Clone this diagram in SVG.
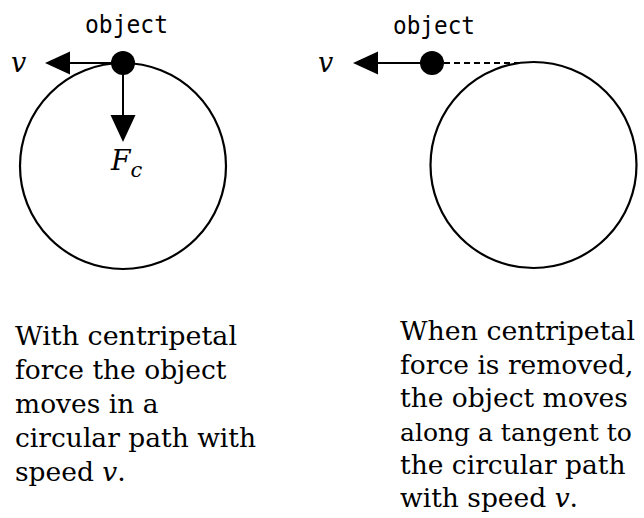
<svg xmlns="http://www.w3.org/2000/svg" width="644" height="518" viewBox="0 0 644 518">
<style>
.circ{fill:none;stroke:#000;stroke-width:2.2}
.ln{stroke:#000;stroke-width:2;fill:none}
.head{fill:#000}
.lbl{font-family:"DejaVu Sans Mono","Liberation Mono",monospace;font-size:25px;fill:#000}
.var{font-family:"DejaVu Serif","Liberation Serif",serif;font-style:italic;fill:#000}
.cap{font-family:"DejaVu Serif","Liberation Serif",serif;font-size:26.5px;fill:#000}
</style>
<rect width="644" height="518" fill="#fff"/>
<g id="left-circle"><circle class="circ" cx="123" cy="166" r="103"/></g>
<g id="right-circle"><circle class="circ" cx="533.5" cy="165" r="103"/></g>
<g id="connectors">
  <line class="ln" x1="123" y1="63" x2="68" y2="63"/>
  <polygon class="head" points="45,63 70,51.5 70,74.5"/>
  <line class="ln" x1="123" y1="63" x2="123" y2="117"/>
  <polygon class="head" points="123,142 110.5,115 135.5,115"/>
  <line class="ln" x1="432" y1="63" x2="376" y2="63"/>
  <polygon class="head" points="353,63 378,51.5 378,74.5"/>
  <line class="ln" x1="444" y1="63" x2="522" y2="63" stroke-dasharray="6,4"/>
</g>
<g id="left-object">
  <circle cx="123" cy="63" r="12" fill="#000"/>
  <text class="lbl" x="85" y="33" textLength="83" lengthAdjust="spacingAndGlyphs">object</text>
  <text class="var" x="11" y="72" font-size="27">v</text>
  <text class="var" x="111" y="170" font-size="28">F<tspan font-size="21" dy="7">c</tspan></text>
</g>
<g id="right-object">
  <circle cx="432" cy="63" r="12" fill="#000"/>
  <text class="lbl" x="393" y="34" textLength="82" lengthAdjust="spacingAndGlyphs">object</text>
  <text class="var" x="318" y="72" font-size="27">v</text>
</g>
<g id="left-caption">
  <text class="cap" x="15" y="345" textLength="222" lengthAdjust="spacingAndGlyphs">With centripetal</text>
  <text class="cap" x="15" y="379">force the object</text>
  <text class="cap" x="15" y="413">moves in a</text>
  <text class="cap" x="15" y="447">circular path with</text>
  <text class="cap" x="15" y="481">speed <tspan font-style="italic">v</tspan>.</text>
</g>
<g id="right-caption">
  <text class="cap" x="400" y="340" textLength="235" lengthAdjust="spacingAndGlyphs">When centripetal</text>
  <text class="cap" x="400" y="374">force is removed,</text>
  <text class="cap" x="400" y="407">the object moves</text>
  <text class="cap" x="400" y="441" style="font-size:25px">along a tangent to</text>
  <text class="cap" x="400" y="474">the circular path</text>
  <text class="cap" x="400" y="507">with speed <tspan font-style="italic">v</tspan>.</text>
</g>
</svg>
